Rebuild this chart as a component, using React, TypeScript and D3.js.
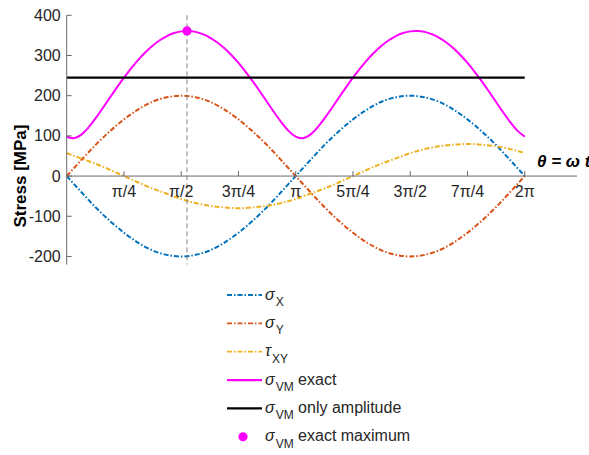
import React from "react";
import * as d3 from "d3";

// sampling grids (radians)
const THETA16: number[] = d3.range(33).map((k) => (k * Math.PI) / 16);
const THETA32: number[] = d3.range(65).map((k) => (k * Math.PI) / 32);

// series values (MPa)
const sigmaX: number[] = [0, -39, -77, -111, -141, -166, -185, -196, -200, -196, -185, -166, -141, -111, -77, -39, 0, 39, 77, 111, 141, 166, 185, 196, 200, 196, 185, 166, 141, 111, 77, 39, 0];
const sigmaY: number[] = [0, 39, 77, 111, 141, 166, 185, 196, 200, 196, 185, 166, 141, 111, 77, 39, 0, -39, -77, -111, -141, -166, -185, -196, -200, -196, -185, -166, -141, -111, -77, -39, 0];
const tauXY: number[] = [57, 44, 31, 16, 0, -16, -31, -44, -57, -67, -74, -78, -80, -78, -74, -67, -57, -44, -31, -16, 0, 16, 31, 44, 57, 67, 74, 78, 80, 78, 74, 67, 57];
const vmExact: number[] = [98.0, 94.2, 102.4, 119.9, 142.8, 168.2, 194.3, 220.2, 244.9, 268.1, 289.3, 308.1, 324.4, 337.9, 348.4, 355.8, 360.0, 361.0, 358.8, 353.3, 344.7, 333.0, 318.5, 301.2, 281.4, 259.4, 235.6, 210.3, 184.3, 158.2, 133.6, 112.4, 98.0, 94.2, 102.4, 119.9, 142.8, 168.2, 194.3, 220.2, 244.9, 268.1, 289.3, 308.1, 324.4, 337.9, 348.4, 355.8, 360.0, 361.0, 358.8, 353.3, 344.7, 333.0, 318.5, 301.2, 281.4, 259.4, 235.6, 210.3, 184.3, 158.2, 133.6, 112.4, 98.0];
const vmAmplitude = 245;
const vmAmplitudeRange: number[] = [0, 2 * Math.PI];
const vmMaxTheta = 1.65;
const vmMaxValue = 361.1;

// axes
const xTickValues: number[] = [1, 2, 3, 4, 5, 6, 7, 8].map((k) => (k * Math.PI) / 4);
const xTickLabels: string[] = ["π/4", "π/2", "3π/4", "π", "5π/4", "3π/2", "7π/4", "2π"];
const yTickValues: number[] = [-200, -100, 0, 100, 200, 300, 400];
const xDomain: number[] = [0, 7];
const yDomain: number[] = [-220, 400];

const legendItems = [
  { sym: "σ", sub: "X", rest: "", color: "#0072BD", kind: "dash" },
  { sym: "σ", sub: "Y", rest: "", color: "#D95319", kind: "dash" },
  { sym: "τ", sub: "XY", rest: "", color: "#EDB120", kind: "dash" },
  { sym: "σ", sub: "VM", rest: " exact", color: "#FF00FF", kind: "solid" },
  { sym: "σ", sub: "VM", rest: " only amplitude", color: "#000000", kind: "solid" },
  { sym: "σ", sub: "VM", rest: " exact maximum", color: "#FF00FF", kind: "dot" },
];

const FONT = "'Liberation Sans', Arial, Helvetica, sans-serif";
const DASH = "5 2 1.5 2";

export default function App() {
  const x = d3.scaleLinear().domain(xDomain).range([66.7, 577]);
  const y = d3.scaleLinear().domain(yDomain).range([264.5, 15.3]);

  const line16 = (vals: number[]) =>
    d3
      .line<number>()
      .x((_, i) => x(THETA16[i]))
      .y((d) => y(d))
      .curve(d3.curveNatural)(vals) || "";
  const line32 = (vals: number[]) =>
    d3
      .line<number>()
      .x((_, i) => x(THETA32[i]))
      .y((d) => y(d))
      .curve(d3.curveNatural)(vals) || "";

  const x0 = x(0);
  const y0 = y(0);
  const axisColor = "#6a6a6a";
  const textColor = "#262626";

  const legendX1 = 227;
  const legendX2 = 262;
  const legendTextX = 265;
  const legendY0 = 295;
  const legendDy = 28.35;

  return (
    <svg
      width={589}
      height={455}
      style={{ position: "absolute", left: 0, top: 0, background: "#fff" }}
      fontFamily={FONT}
    >
      {/* data lines */}
      <path d={line16(sigmaX)} fill="none" stroke="#0072BD" strokeWidth={2} strokeDasharray={DASH} />
      <path d={line16(sigmaY)} fill="none" stroke="#D95319" strokeWidth={2} strokeDasharray={DASH} />
      <path d={line16(tauXY)} fill="none" stroke="#EDB120" strokeWidth={2} strokeDasharray={DASH} />
      <path d={line32(vmExact)} fill="none" stroke="#FF00FF" strokeWidth={2} />
      <line
        x1={x(vmAmplitudeRange[0])}
        x2={x(vmAmplitudeRange[1])}
        y1={y(vmAmplitude)}
        y2={y(vmAmplitude)}
        stroke="#000"
        strokeWidth={2.2}
      />

      {/* vertical dashed line at maximum */}
      <line
        x1={x(vmMaxTheta)}
        x2={x(vmMaxTheta)}
        y1={y(yDomain[1])}
        y2={y(yDomain[0])}
        stroke="#777"
        strokeWidth={0.9}
        strokeDasharray="5 3"
      />
      <circle cx={x(vmMaxTheta)} cy={y(vmMaxValue)} r={4.6} fill="#FF00FF" />

      {/* y axis */}
      <line x1={x0} x2={x0} y1={y(yDomain[1])} y2={y(yDomain[0])} stroke={axisColor} strokeWidth={1} />
      {yTickValues.map((v) => (
        <g key={"yt" + v}>
          <line x1={x0} x2={x0 + 5} y1={y(v)} y2={y(v)} stroke={axisColor} strokeWidth={1} />
          <text
            x={x0 - 6}
            y={y(v)}
            textAnchor="end"
            dominantBaseline="central"
            fontSize={16}
            fill={textColor}
          >
            {v}
          </text>
        </g>
      ))}

      {/* x axis at origin */}
      <line x1={x(xDomain[0])} x2={x(xDomain[1])} y1={y0} y2={y0} stroke={axisColor} strokeWidth={1} />
      {xTickValues.map((v, i) => (
        <g key={"xt" + i}>
          <line x1={x(v)} x2={x(v)} y1={y0} y2={y0 - 5} stroke={axisColor} strokeWidth={1} />
          <text x={x(v)} y={y0 + 21} textAnchor="middle" fontSize={16} fill={textColor}>
            {xTickLabels[i]}
          </text>
        </g>
      ))}

      {/* axis labels */}
      <text
        transform={`translate(20,${y0}) rotate(-90)`}
        textAnchor="middle"
        dominantBaseline="central"
        fontSize={17}
        fontWeight="bold"
        fill="#000"
      >
        Stress [MPa]
      </text>
      <text x={537} y={167} fontSize={17} fontWeight="bold" fontStyle="italic" fill="#000">
        θ = ω t
      </text>

      {/* legend */}
      {legendItems.map((it, i) => {
        const ly = legendY0 + i * legendDy;
        return (
          <g key={"lg" + i}>
            {it.kind === "dot" ? (
              <circle cx={(legendX1 + legendX2) / 2 - 1.5} cy={ly} r={4.6} fill={it.color} />
            ) : (
              <line
                x1={legendX1}
                x2={legendX2}
                y1={ly}
                y2={ly}
                stroke={it.color}
                strokeWidth={it.kind === "dash" ? 1.8 : 2.2}
                strokeDasharray={it.kind === "dash" ? DASH : undefined}
              />
            )}
            <text x={legendTextX} y={ly + 4.5} fontSize={16} fill={textColor}>
              <tspan fontStyle="italic">{it.sym}</tspan>
              <tspan dy={6.5} dx={1} fontSize={12}>
                {it.sub}
              </tspan>
              {it.rest ? <tspan dy={-6.5}>{it.rest}</tspan> : null}
            </text>
          </g>
        );
      })}
    </svg>
  );
}
